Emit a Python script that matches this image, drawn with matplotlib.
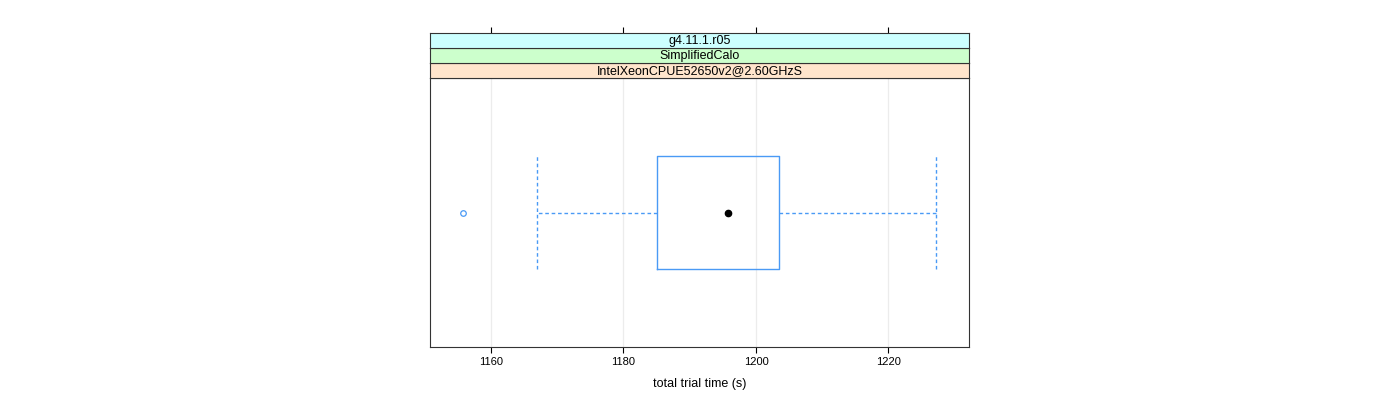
import matplotlib
matplotlib.use('Agg')
import matplotlib.pyplot as plt

plt.rcParams['font.family'] = ['Liberation Sans', 'DejaVu Sans']

# box stats (seconds)
q1 = 1185.1
med = 1195.8
q3 = 1203.5
whislo = 1167.0
whishi = 1227.2
outliers = [1155.8]

strip_labels = ['IntelXeonCPUE52650v2@2.60GHzS', 'SimplifiedCalo', 'g4.11.1.r05']
strip_colors = ['#ffe5cc', '#ccffcc', '#ccffff']
xticks = [1160, 1180, 1200, 1220]

W, H = 1400, 400
fig = plt.figure(figsize=(14, 4), dpi=100)

# panel
left, right = 430, 969
ptop, pbot = 78, 347
ax = fig.add_axes([left / W, 1 - pbot / H, (right - left) / W, (pbot - ptop) / H])

blue = '#4a9af5'
dash = (0, (2.6, 2.0))
stats = [dict(med=med, q1=q1, q3=q3, whislo=whislo, whishi=whishi, fliers=outliers)]
ax.bxp(stats, positions=[1], widths=0.5, capwidths=[0.5], vert=False, showcaps=True,
       boxprops=dict(color=blue, lw=1),
       whiskerprops=dict(color=blue, lw=1, linestyle=dash),
       capprops=dict(color=blue, lw=1, linestyle=dash),
       medianprops=dict(linestyle='none'),
       flierprops=dict(marker='o', markersize=4, markerfacecolor='none',
                       markeredgecolor=blue, markeredgewidth=0.9))
ax.plot([med], [1], 'o', color='black', markersize=4.5, zorder=5)

for xt in xticks:
    ax.axvline(xt, color='#ececec', lw=0.9, zorder=0)

ax.set_xlim(1150.8, 1232.15)
ax.set_ylim(0.4, 1.6)
ax.set_yticks([])
ax.set_xticks(xticks)
ax.tick_params(axis='x', direction='out', length=4.3, width=0.8, labelsize=8, pad=3)
for sp in ax.spines.values():
    sp.set_linewidth(0.8)
    sp.set_color('#333333')
ax.set_xlabel('total trial time (s)', fontsize=9, labelpad=8)

# strips, stacked above the panel
strip_h = 15
for i, (lab, col) in enumerate(zip(strip_labels, strip_colors)):
    y_top = ptop - strip_h * (i + 1)
    sax = fig.add_axes([left / W, 1 - (y_top + strip_h) / H, (right - left) / W, strip_h / H])
    sax.set_facecolor(col)
    sax.set_xlim(ax.get_xlim())
    sax.set_ylim(0, 1)
    sax.set_yticks([])
    sax.text(0.5, 0.45, lab, transform=sax.transAxes, ha='center', va='center', fontsize=9)
    for sp in sax.spines.values():
        sp.set_linewidth(0.8)
        sp.set_color('#333333')
    if i == len(strip_labels) - 1:
        sax.set_xticks(xticks)
        sax.xaxis.set_ticks_position('top')
        sax.tick_params(axis='x', direction='out', length=4.3, width=0.8, labeltop=False)
    else:
        sax.set_xticks([])

fig.savefig('out.png', dpi=100)
